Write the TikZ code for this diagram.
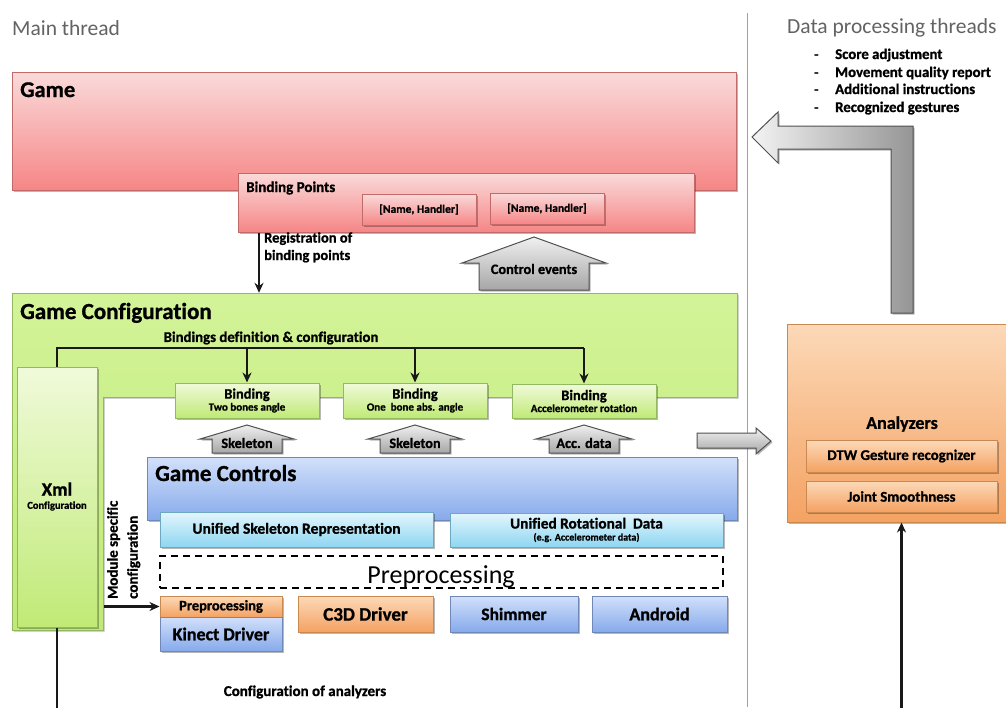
\documentclass[tikz,border=0pt]{standalone}
\usepackage{fontspec}
\setmainfont{Carlito}[Ligatures=NoCommon, BoldFeatures={FakeBold=1}]
\usetikzlibrary{fit,shadows,arrows.meta}

\definecolor{redA}{HTML}{FADADA}
\definecolor{redB}{HTML}{F68686}
\definecolor{redL}{HTML}{C06A6A}
\definecolor{grnA}{HTML}{D3F398}
\definecolor{grnB}{HTML}{C0EA76}
\definecolor{grnC}{HTML}{F0FADA}
\definecolor{grnL}{HTML}{92B862}
\definecolor{bluA}{HTML}{D2E0FA}
\definecolor{bluB}{HTML}{86AAEB}
\definecolor{bluL}{HTML}{6F88B8}
\definecolor{cyaA}{HTML}{E3F6FD}
\definecolor{cyaB}{HTML}{8ED6F1}
\definecolor{cyaL}{HTML}{6EA8C0}
\definecolor{ornA}{HTML}{FCD9B8}
\definecolor{ornB}{HTML}{F4A262}
\definecolor{ornL}{HTML}{C98A52}
\definecolor{gryA}{HTML}{F0F0F0}
\definecolor{gryB}{HTML}{A6A6A6}
\definecolor{gryL}{HTML}{505050}
\definecolor{headtxt}{HTML}{636363}
\definecolor{sepL}{HTML}{8FA4BC}

\newcommand\fsz[2]{\fontsize{#1}{#2}\selectfont}
% up-pointing block arrow: centre x, tip y, wing y, half wing, half body, bottom y
\newcommand\blockup[6]{%
  \path[grayarrow] (#1,#2) -- (#1+#4,#3) -- (#1+#5,#3) -- (#1+#5,#6)
    -- (#1-#5,#6) -- (#1-#5,#3) -- (#1-#4,#3) -- cycle;}

\tikzset{
  base/.style={inner sep=0pt, line width=1pt},
  shad/.style={drop shadow={shadow xshift=1.5pt, shadow yshift=-1.5pt, opacity=0.28, fill=black}},
  redbox/.style={base, shad, draw=redL, top color=redA, bottom color=redB},
  grnbox/.style={base, shad, draw=grnL, top color=grnC, bottom color=grnB},
  blubox/.style={base, shad, draw=bluL, top color=bluA, bottom color=bluB},
  cyabox/.style={base, shad, draw=cyaL, top color=cyaA, bottom color=cyaB},
  ornbox/.style={base, shad, draw=ornL, top color=ornA, bottom color=ornB},
  grayarrow/.style={shad, draw=gryL, line width=1pt, top color=gryA, bottom color=gryB},
  conn/.style={line width=2.5pt, black!90},
  arr/.style={conn, -{Stealth[length=10pt, width=9pt]}},
  txt/.style={inner sep=0pt, font=\bfseries},
}

\begin{document}
\begin{tikzpicture}[x=1pt, y=-1pt]
\useasboundingbox (0,0) rectangle (1006,707);
\fill[white] (0,0) rectangle (1006,707);

% thread headings and separator
\node[anchor=base west, inner sep=0pt, text=headtxt, font=\fsz{21.5}{25}] (mainhead) at (12,35) {Main thread};
\node[anchor=base west, inner sep=0pt, text=headtxt, font=\fsz{21.5}{25}] (datahead) at (787,33) {Data processing threads};
\draw[sepL, line width=0.8pt] (747,13) -- (747,707);
\foreach \yy/\tt in {59/Score adjustment, 77/Movement quality report, 94/Additional instructions, 112/Recognized gestures}{
  \node[txt, anchor=base west, font=\fsz{14.8}{17}\bfseries] at (835,\yy) {\tt};
  \node[txt, anchor=base west, font=\fsz{14}{17}\bfseries] at (814,\yy) {-};
}

% Game
\node[redbox, fit={(12,72) (736,190)}] (game) {};
\node[txt, anchor=base west, font=\fsz{22.5}{26}\bfseries] at (20,97) {Game};
\node[redbox, fit={(238,173) (694,232)}] (bp) {};
\node[txt, anchor=base west, font=\fsz{15}{18}\bfseries] at (246,192) {Binding Points};
\node[redbox, fit={(362,194) (476,225)}] (nh1) {};
\node[redbox, fit={(490,193) (604,224)}] (nh2) {};
\node[txt, font=\fsz{11.5}{13}\bfseries] at (nh1.center) {[Name, Handler]};
\node[txt, font=\fsz{11.5}{13}\bfseries] at (nh2.center) {[Name, Handler]};

% Game configuration (L-shaped frame)
\path[base, shad, draw=grnL, top color=grnA, bottom color=grnB]
  (12,293) -- (737,293) -- (737,397) -- (103,397) -- (103,630) -- (12,630) -- cycle;
\node[inner sep=0pt, fit={(12,293) (737,397)}] (gcfg) {};
\node[txt, anchor=base west, font=\fsz{23}{27}\bfseries] at (20,319) {Game Configuration};
\node[txt, font=\fsz{14.8}{17}\bfseries] at (271,338) {Bindings definition \& configuration};

\node[grnbox, fit={(17,367) (97,627)}] (xml) {};
\node[txt, font=\fsz{19}{22}\bfseries] at (57,489) {Xml};
\node[txt, font=\fsz{10.5}{12}\bfseries] at (57,506) {Configuration};

\node[grnbox, fit={(175,383) (319,418)}] (b1) {};
\node[grnbox, fit={(343,383) (487,418)}] (b2) {};
\node[grnbox, fit={(512,384) (656,418)}] (b3) {};
\node[txt, align=center] at (b1.center)
  {\fsz{14.5}{14}Binding\\\fsz{11}{13}Two bones angle};
\node[txt, align=center] at (b2.center)
  {\fsz{14.5}{14}Binding\\\fsz{11}{13}One\ \ bone abs. angle};
\node[txt, align=center] at (b3.center)
  {\fsz{14.5}{14}Binding\\\fsz{11}{13}Accelerometer rotation};

% registration arrow
\coordinate (regx) at (259,0);
\draw[arr] (bp.south -| regx) -- (gcfg.north -| regx);
\node[txt, anchor=base west, align=left, font=\fsz{14.5}{17.5}\bfseries] at (264,260) {Registration of\\binding points};

% control events arrow
\blockup{534}{237}{263}{72}{55}{290}
\node[txt, font=\fsz{14.3}{16}\bfseries] (ctrl) at (534,269) {Control events};

% bindings distribution
\coordinate (bar) at (0,348);
\draw[conn] (xml.north) -- (xml.north |- bar) -- (b3.north |- bar);
\draw[arr] (b3.north |- bar) -- (b3.north);
\draw[arr] (b1.north |- bar) -- (b1.north);
\draw[arr] (b2.north |- bar) -- (b2.north);

% data arrows to bindings
\blockup{247}{425}{439}{47}{35}{453}
\blockup{415}{425}{439}{47}{35}{453}
\blockup{584}{425}{439}{48}{35}{453}
\node[txt, font=\fsz{14.3}{16}\bfseries] at (247,443) {Skeleton};
\node[txt, font=\fsz{14.3}{16}\bfseries] at (415,443) {Skeleton};
\node[txt, font=\fsz{14.3}{16}\bfseries] at (584,443) {Acc. data};

% Game controls
\node[blubox, fit={(147,457) (737,520)}] (gc) {};
\node[txt, anchor=base west, font=\fsz{23}{27}\bfseries] at (155,481) {Game Controls};
\node[cyabox, fit={(160,512) (433,547)}] (usr) {};
\node[cyabox, fit={(450,513) (723,547)}] (urd) {};
\node[txt, font=\fsz{15.5}{18}\bfseries] at (usr.center) {Unified Skeleton Representation};
\node[txt, align=center] at (urd.center)
  {\fsz{15.3}{14}Unified Rotational\ \ Data\\\fsz{10}{12}(e.g. Accelerometer data)};
\node[base, draw=black, dash pattern=on 7pt off 5pt, line width=1.5pt, fit={(160,556) (723,588)}] (prep) {};
\node[inner sep=0pt, anchor=base, font=\fsz{26}{30}] at (441,583) {Preprocessing};

% drivers
\node[ornbox, fit={(160,596) (282,617)}] (pre) {};
\node[blubox, fit={(160,617) (282,651)}] (kin) {};
\node[ornbox, fit={(298,596) (433,632)}] (c3d) {};
\node[blubox, fit={(450,596) (578,632)}] (shim) {};
\node[blubox, fit={(592,596) (727,632)}] (andr) {};
\node[txt, font=\fsz{14.5}{16}\bfseries] at (pre.center) {Preprocessing};
\node[txt, font=\fsz{18}{20}\bfseries] at (kin.center) {Kinect Driver};
\node[txt, font=\fsz{19}{21}\bfseries] at (c3d.center) {C3D Driver};
\node[txt, font=\fsz{17.5}{20}\bfseries] at (shim.center) {Shimmer};
\node[txt, font=\fsz{18}{20}\bfseries] at (andr.center) {Android};

% module configuration
\draw[arr] ([xshift=6pt]xml.east |- pre.west) -- (pre.west);
\node[txt, rotate=90, anchor=north west, align=left, font=\fsz{15}{20}\bfseries] at (107,599) {Module specific\\configuration};

% analyzers
\node[ornbox, fit={(787,324) (1008,522)}] (an) {};
\node[txt, font=\fsz{18}{21}\bfseries] at (902,424) {Analyzers};
\node[ornbox, fit={(806,440) (997,472)}] (dtw) {};
\node[ornbox, fit={(806,481) (997,512)}] (js) {};
\node[txt, font=\fsz{14.8}{17}\bfseries] at (dtw.center) {DTW Gesture recognizer};
\node[txt, font=\fsz{14.8}{17}\bfseries] at (js.center) {Joint Smoothness};

% configuration of analyzers
\coordinate (bottom) at (0,710);
\draw[conn] (xml.south) -- (xml.south |- bottom);
\draw[arr] (js.south |- bottom) -- (an.south -| js.south);
\node[txt, font=\fsz{15}{17}\bfseries] at (305,692) {Configuration of analyzers};

% data flow to analyzers
\path[grayarrow] (697,433) -- (756,433) -- (756,428) -- (771,441) -- (756,454) -- (756,448) -- (697,448) -- cycle;

% results back to the game
\path[shad, draw=gryL, line width=1pt, left color=gryA!80!white, right color=gryB!90!black]
  (891,313) -- (891,149) -- (778,149) -- (778,163) -- (752,137) -- (778,112)
  -- (778,126) -- (913,126) -- (913,313) -- cycle;
\end{tikzpicture}
\end{document}
